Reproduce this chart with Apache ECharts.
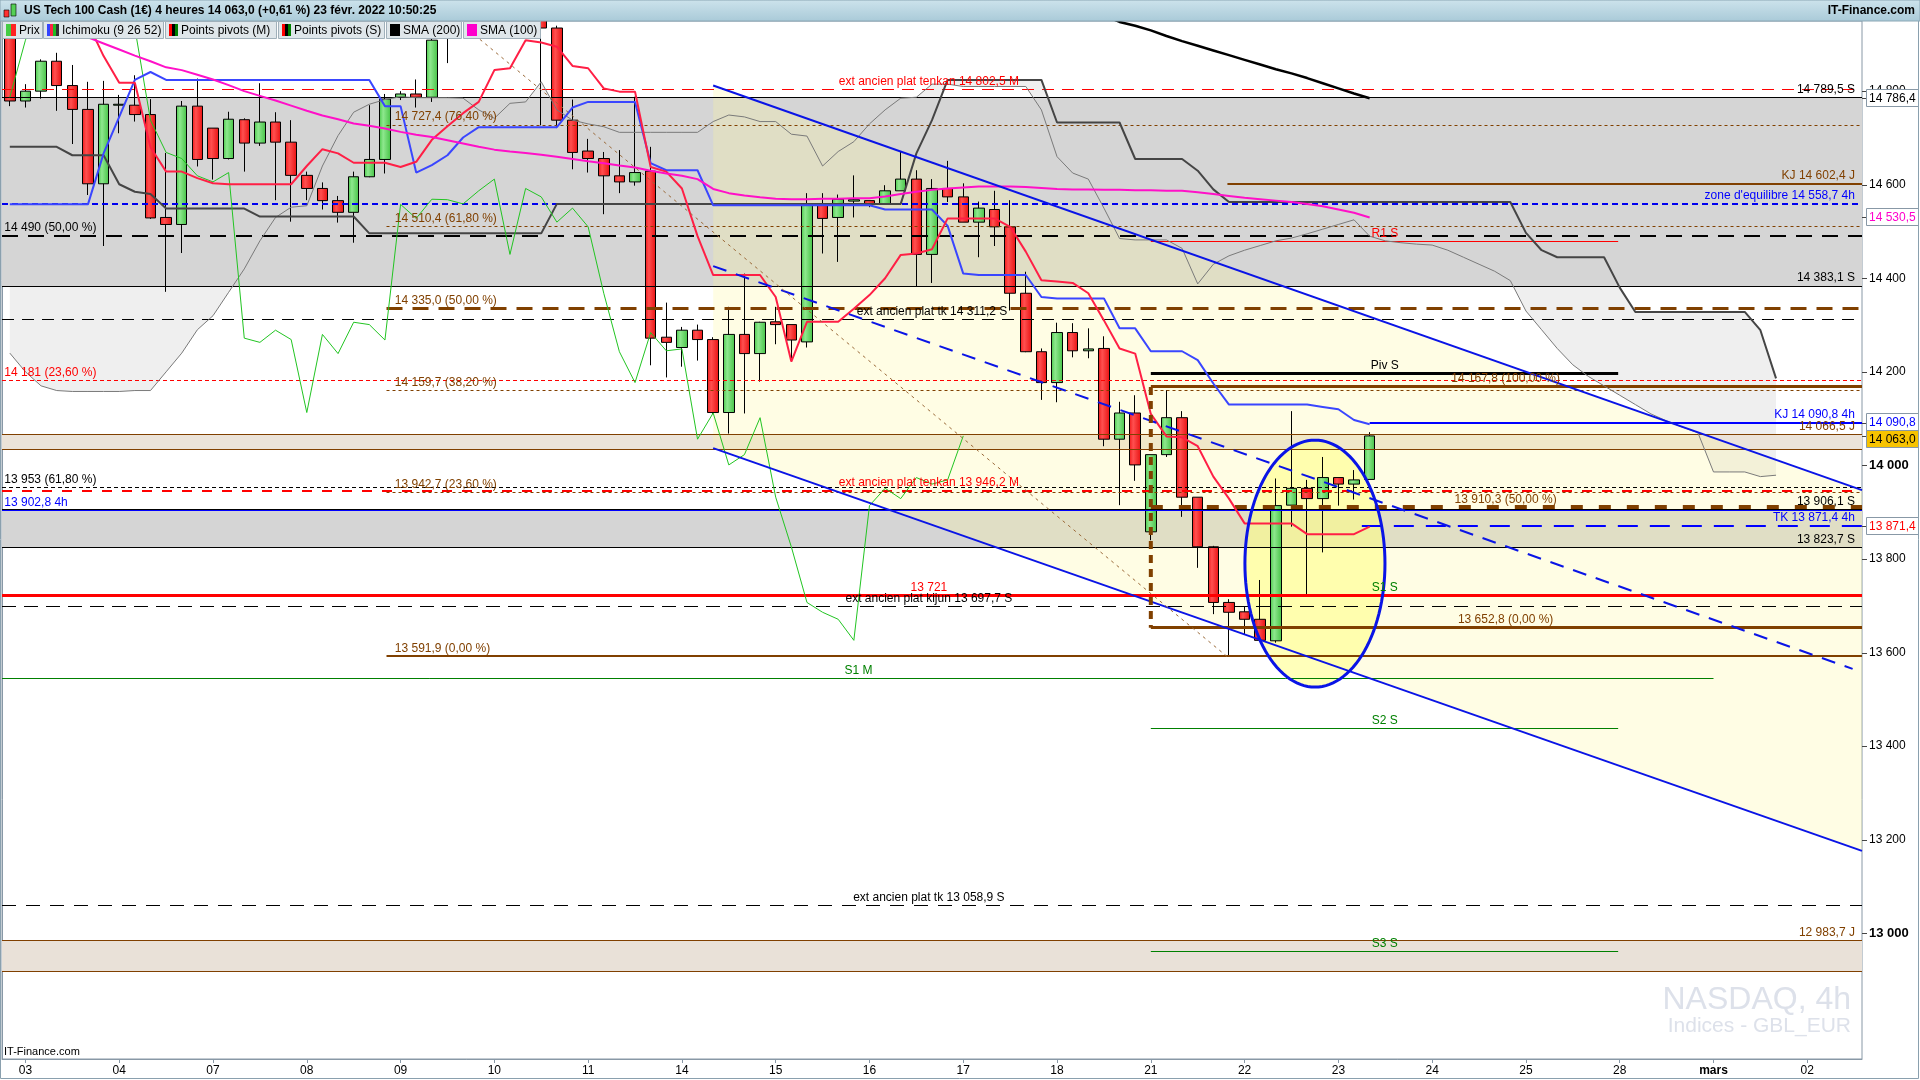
<!DOCTYPE html>
<html><head><meta charset="utf-8">
<script src="https://cdn.jsdelivr.net/npm/echarts@6/dist/echarts.min.js"></script>
<style>html,body{margin:0;padding:0;background:#fff;overflow:hidden}#c{width:1920px;height:1080px}</style>
</head><body><div id="c"></div><script>
// ---------- DATA ----------
const dayLabels = ['03','04','07','08','09','10','11','14','15','16','17','18','21','22','23','24','25','28','mars','02'];
const barsPerDay = 6, firstBar = 1, slotCount = 119;

const opens  = [14940,14779,14800,14864,14812,14761,14602,14770,14770,14750,14530,14515,14768,14721,14656,14739,14689,14734,14691,14620,14592,14566,14541,14617,14654,14787,14794,14787,14915,15000,15060,15120,15170,15110,15040,14935,14738,14672,14656,14619,14606,14629,14274,14252,14289,14269,14113,14280,14239,14307,14301,14264,14558,14530,14565,14566,14559,14587,14612,14451,14592,14574,14520,14547,14510,14368,14243,14177,14284,14245,14250,14056,14112,13858,14023,14102,13932,13826,13707,13687,13671,13625,13915,13951,13929,13974,13960,13970];
const closes = [14779,14800,14864,14812,14761,14602,14772,14772,14750,14529,14515,14768,14654,14656,14740,14689,14734,14691,14620,14592,14566,14541,14617,14654,14783,14794,14787,14909,15000,15060,15120,15170,15110,15040,14935,14738,14669,14656,14619,14606,14626,14272,14263,14289,14269,14113,14280,14239,14306,14301,14268,14558,14528,14569,14568,14559,14587,14612,14451,14592,14574,14520,14550,14510,14368,14243,14177,14284,14245,14249,14056,14112,14001,14023,14102,13932,13826,13707,13686,13671,13626,13914,13951,13929,13974,13960,13969,14063];
const lows   = [14768,14765,14784,14758,14687,14578,14469,14710,14735,14527,14371,14454,14639,14611,14654,14628,14683,14567,14521,14567,14547,14519,14476,14616,14624,14781,14765,14777,14860,14970,15040,15100,15080,15000,14727,14721,14633,14626,14537,14582,14598,14214,14188,14211,14224,14110,14068,14111,14179,14259,14222,14252,14453,14435,14530,14552,14559,14587,14383,14390,14563,14520,14445,14469,14331,14242,14140,14135,14231,14229,14041,13915,13967,13840,14018,13890,13781,13682,13591,13639,13625,13621,13869,13721,13814,13914,13927,13970];
const highs  = [14960,14815,14868,14882,14856,14820,14822,14792,14834,14783,14668,14779,14827,14721,14756,14742,14817,14755,14738,14628,14605,14576,14628,14770,14794,14800,14825,14930,15020,15090,15150,15200,15190,15130,15060,14940,14782,14698,14670,14674,14788,14681,14348,14296,14301,14274,14339,14410,14307,14339,14301,14582,14582,14579,14620,14566,14599,14671,14631,14612,14651,14603,14564,14587,14567,14414,14250,14305,14304,14293,14276,14136,14150,14023,14161,14116,13932,13828,13714,13698,13755,13972,14116,13969,14018,13974,13990,14071];

const tenkan = [15000,15000,14990,14980,14965,14945,14875,14818,14818,14680,14628,14628,14614,14603,14601,14601,14601,14601,14601,14640,14676,14667,14647,14647,14647,14638,14649,14696,14725,14753,14777,14845,14849,14909,14904,14895,14854,14849,14806,14799,14799,14638,14628,14592,14490,14407,14407,14407,14407,14360,14222,14307,14307,14307,14335,14364,14400,14450,14453,14462,14528,14528,14528,14528,14510,14457,14396,14393,14390,14368,14310,14250,14239,14110,14062,14060,14041,13976,13929,13876,13876,13876,13876,13853,13853,13853,13853,13869];
const kijun  = [14558,14558,14558,14558,14558,14558,14667,14745,14824,14841,14824,14824,14824,14824,14824,14824,14824,14824,14824,14824,14824,14824,14824,14824,14768,14768,14626,14642,14663,14701,14723,14723,14723,14723,14723,14723,14765,14777,14777,14777,14777,14646,14631,14631,14631,14556,14556,14556,14556,14556,14556,14556,14556,14556,14556,14556,14547,14547,14547,14547,14512,14410,14407,14407,14407,14407,14360,14357,14357,14357,14357,14293,14293,14244,14244,14244,14225,14175,14130,14130,14130,14130,14130,14130,14125,14120,14097,14088];
const spanA  = [14240,14200,14170,14160,14158,14158,14158,14158,14160,14160,14200,14240,14290,14320,14370,14420,14480,14530,14552,14555,14640,14705,14755,14772,14782,14788,14786,14786,14786,14785,14760,14742,14774,14777,14820,14760,14738,14730,14724,14712,14712,14712,14712,14712,14712,14735,14749,14745,14735,14735,14708,14704,14640,14671,14692,14730,14760,14785,14787,14815,14815,14810,14810,14810,14810,14810,14760,14660,14625,14612,14550,14485,14482,14482,14482,14464,14388,14430,14448,14460,14470,14480,14486,14495,14505,14515,14525,14490,14480,14476,14473,14471,14460,14445,14430,14415,14395,14330,14290,14250,14215,14190,14170,14150,14130,14110,14095,14082,14070,13986,13986,13986,13976,13979];
const spanB  = [14681,14681,14681,14681,14663,14663,14663,14601,14585,14580,14549,14549,14549,14549,14549,14549,14532,14532,14532,14532,14532,14532,14532,14496,14496,14496,14496,14496,14496,14496,14496,14496,14496,14496,14496,14559,14559,14559,14559,14559,14559,14559,14559,14559,14559,14559,14559,14559,14559,14559,14559,14559,14559,14559,14559,14559,14559,14559,14667,14738,14824,14824,14824,14824,14824,14824,14824,14733,14733,14733,14733,14733,14655,14655,14655,14655,14630,14590,14563,14563,14563,14563,14563,14563,14563,14563,14563,14563,14563,14563,14563,14563,14563,14563,14563,14563,14563,14497,14460,14445,14445,14445,14445,14380,14328,14328,14328,14328,14328,14328,14328,14328,14289,14186];
const sma100 = [14980,14967,14954,14941,14928,14915,14902,14889,14876,14864,14851,14845,14835,14825,14813,14800,14790,14780,14769,14758,14748,14740,14731,14726,14720,14713,14707,14702,14695,14688,14681,14675,14671,14668,14664,14660,14655,14650,14646,14641,14637,14630,14624,14619,14612,14591,14582,14577,14573,14570,14569,14569,14570,14570,14571,14571,14575,14580,14585,14589,14592,14594,14596,14596,14596,14595,14593,14591,14590,14590,14589,14589,14588,14588,14587,14587,14584,14580,14576,14572,14569,14566,14563,14559,14554,14547,14540,14530];
const sma200Start = 69;
const sma200 = [14975,14962,14948,14940,14930,14918,14907,14897,14887,14877,14867,14857,14847,14838,14828,14817,14806,14795,14785];

// drawn objects (slot units on x, price on y)
const channelUpper = [[45.5,14812],[119,13947]];
const channelLower = [[45.5,14037],[119,13176]];
const channelMid   = [[45.5,14426],[118.4,13565]];
const fibDiagonal  = [[28.5,14968],[78.43,13590]];
const fibVertical  = [[73.5,14167.8],[73.5,13652.8]];
const ellipse = {u:84.0, v:13790, ru:4.48, rv:264};

const bands = [
  [14786.4,14383.1,'#d5d5d5'],
  [14066.5,14034,'#ebe3d9'],
  [13902.8,13823.7,'#d5d5d5'],
  [12983.7,12919,'#e9e1d8']
];
const BR = '#804000';
// [u0,u1,value,color,width,dash]
const levels = [
  [0,119,14802.5,'#ff0000',1,[12,8]],
  [0,119,14786.4,'#000000',1,null],
  [24.6,119,14727.4,BR,1,[3,3]],
  [78.4,119,14602.4,BR,2,null],
  [0,119,14558.7,'#0000ee',2,[6,4]],
  [24.6,119,14510.4,BR,1,[3,3]],
  [0,119,14490,'#000000',2,[16,10]],
  [73.5,103.4,14479,'#ff0000',1,null],
  [0,119,14383.1,'#000000',1,null],
  [24.6,119,14335,BR,3,[16,10]],
  [0,119,14311.2,'#000000',1,[12,8]],
  [73.5,103.4,14196,'#000000',3,null],
  [0,119,14181,'#ff0000',1,[4,3]],
  [73.5,119,14167.8,BR,3,null],
  [24.6,119,14159.7,BR,1,[3,3]],
  [87.5,119,14090.8,'#0000ff',2,null],
  [0,119,14066.5,BR,1,null],
  [0,119,14034,BR,1,null],
  [0,119,13953,'#000000',1,[4,3]],
  [0,119,13946.2,'#ff0000',2,[10,10]],
  [24.6,119,13942.7,BR,1,[3,3]],
  [0,119,13906.1,'#000000',1,null],
  [0,119,13902.8,'#0000ff',1,null],
  [73.5,119,13910.3,BR,4,[12,16]],
  [87,119,13871.4,'#0000ff',2,[20,12]],
  [0,119,13823.7,'#000000',1,null],
  [0,119,13721,'#ff0000',3,null],
  [0,119,13697.7,'#000000',1,[14,8]],
  [73.5,119,13652.8,BR,3,null],
  [24.6,119,13591.9,BR,2,null],
  [0,109.5,13544,'#008000',1,null],
  [73.5,103.4,13437,'#008000',1,null],
  [0,119,13058.9,'#000000',1,[14,10]],
  [0,119,12983.7,BR,1,null],
  [0,119,12919,BR,1,null],
  [73.5,103.4,12960,'#008000',1,null]
];
// [u,value,text,color,align]
const labels = [
  [59.3,14802.5,'ext ancien plat tenkan 14 802,5 M','#ff0000','center'],
  [118.55,14786.4,'14 789,5 S','#000','right'],
  [25.13,14727.4,'14 727,4 (76,40 %)',BR,'left'],
  [118.55,14602.4,'KJ 14 602,4 J',BR,'right'],
  [118.55,14558.7,"zone d'equilibre 14 558,7 4h",'#0000ff','right'],
  [25.13,14510.4,'14 510,4 (61,80 %)',BR,'left'],
  [0.15,14490,'14 490 (50,00 %)','#000','left'],
  [88.47,14479,'R1 S','#ff0000','center'],
  [118.55,14383.1,'14 383,1 S','#000','right'],
  [25.13,14335,'14 335,0 (50,00 %)',BR,'left'],
  [59.5,14311.2,'ext ancien plat tk 14 311,2 S','#000','center'],
  [88.47,14196,'Piv S','#000','center'],
  [0.15,14181,'14 181 (23,60 %)','#ff0000','left'],
  [96.2,14167.8,'14 167,8 (100,00 %)',BR,'center'],
  [25.13,14159.7,'14 159,7 (38,20 %)',BR,'left'],
  [118.55,14066.5,'14 066,5 J',BR,'right'],
  [118.55,14090.8,'KJ 14 090,8 4h','#0000ff','right'],
  [0.15,13953,'13 953 (61,80 %)','#000','left'],
  [59.3,13946.2,'ext ancien plat tenkan 13 946,2 M','#ff0000','center'],
  [25.13,13942.7,'13 942,7 (23,60 %)',BR,'left'],
  [96.2,13910.3,'13 910,3 (50,00 %)',BR,'center'],
  [118.55,13906.1,'13 906,1 S','#000','right'],
  [0.15,13902.8,'13 902,8 4h','#0000ff','left'],
  [118.55,13871.4,'TK 13 871,4 4h','#0000ff','right'],
  [118.55,13823.7,'13 823,7 S','#000','right'],
  [59.3,13721,'13 721','#ff0000','center'],
  [88.47,13721,'S1 S','#008000','center'],
  [59.3,13697.7,'ext ancien plat kijun 13 697,7 S','#000','center'],
  [96.2,13652.8,'13 652,8 (0,00 %)',BR,'center'],
  [25.13,13591.9,'13 591,9 (0,00 %)',BR,'left'],
  [54.8,13544,'S1 M','#008000','center'],
  [88.47,13437,'S2 S','#008000','center'],
  [59.3,13058.9,'ext ancien plat tk 13 058,9 S','#000','center'],
  [118.55,12983.7,'12 983,7 J',BR,'right'],
  [88.47,12960,'S3 S','#008000','center']
];
// right axis value boxes [value,text,color,bg,dy]
const axisBoxes = [
  [14786.4,'14 786,4','#000000','#ffffff',0],
  [14530.5,'14 530,5','#ff00cc','#ffffff',0],
  [14090.8,'14 090,8','#0000ff','#ffffff',-1],
  [14063.0,'14 063,0','#000000','#f7c300',3],
  [13871.4,'13 871,4','#ff0000','#ffffff',0]
];
const yTicks = [13000,13200,13400,13600,13800,14000,14200,14400,14600,14800];
const yMin = 12731, yMax = 14950;
const title = 'US Tech 100 Cash (1€) 4 heures 14 063,0 (+0,61 %) 23 févr. 2022 10:50:25';
const legendItems = [
  {x:2,w:41,text:'Prix',icons:['#44cc44','#ff2222']},
  {x:43,w:121,text:'Ichimoku (9 26 52)',icons:['#3344ff','#ff2244','#22bb22','#333333']},
  {x:165,w:112,text:'Points pivots (M)',icons:['#ff0000','#000000','#008000']},
  {x:278,w:107,text:'Points pivots (S)',icons:['#ff0000','#000000','#008000']},
  {x:386,w:76,text:'SMA (200)',icons:['#000000']},
  {x:463,w:78,text:'SMA (100)',icons:['#ff00cc']}
];

// ---------- BUILD ----------
const labelAt = [];
const categories = [];
for (let i = 0; i < slotCount; i++) {
  const k = (i - firstBar) / barsPerDay;
  labelAt.push(Number.isInteger(k) && k >= 0 && k < dayLabels.length ? dayLabels[k] : '');
  categories.push('b' + i);
}
const candleData = opens.map((o, i) => [o, closes[i], lows[i], highs[i]]);
const pts = arr => arr.map((v, i) => [i + 0.5, v]);
const chikou = closes.slice(26).map((v, i) => [i + 0.5, v]);
const fmt = v => { const s = String(Math.round(v)); return s.slice(0, s.length - 3) + ' ' + s.slice(-3); };
const FONT = '"Liberation Sans", Arial, sans-serif';

function lineSeries(name, data, color, width, z, dash) {
  return {name, type: 'line', xAxisIndex: 1, yAxisIndex: 0, data, symbol: 'none', silent: true, z,
    lineStyle: {color, width, type: dash || 'solid'}, clip: true};
}

const chart = echarts.init(document.getElementById('c'), null, {width: 1920, height: 1080});
const crisp = (y, w) => (w % 2 === 1 ? Math.round(y - 0.5) + 0.5 : Math.round(y));

const option = {
  animation: false,
  backgroundColor: '#ffffff',
  grid: {left: 2, right: 58, top: 21, bottom: 21, show: true, borderColor: '#8898a6', borderWidth: 1, backgroundColor: '#ffffff'},
  xAxis: [
    {type: 'category', data: categories, boundaryGap: true,
      axisLine: {show: true, lineStyle: {color: '#8898a6'}},
      axisTick: {show: true, alignWithLabel: true, interval: idx => labelAt[idx] !== '', length: 4, lineStyle: {color: '#8898a6'}},
      axisLabel: {show: true, interval: idx => labelAt[idx] !== '', margin: 6, color: '#000', fontSize: 12,
        fontFamily: '"Liberation Sans Narrow", "Liberation Sans", Arial',
        formatter: (val, idx) => labelAt[idx] === 'mars' ? '{b|mars}' : labelAt[idx],
        rich: {b: {fontWeight: 'bold', fontSize: 12, fontFamily: '"Liberation Sans Narrow", "Liberation Sans", Arial'}}},
      splitLine: {show: false}},
    {type: 'value', min: 0, max: slotCount, show: false}
  ],
  yAxis: [{type: 'value', position: 'right', min: yMin, max: yMax, scale: true,
    axisLine: {show: true, lineStyle: {color: '#8898a6'}},
    axisTick: {show: false},
    axisLabel: {show: true, customValues: yTicks, margin: 7, color: '#000', fontSize: 12, fontFamily: FONT,
      formatter: v => (v % 1000 === 0 ? '{b|' + fmt(v) + '}' : fmt(v)),
      rich: {b: {fontWeight: 'bold', fontSize: 13, fontFamily: FONT}}},
    splitLine: {show: false}}],
  series: [
    // ichimoku cloud fill
    {type: 'custom', xAxisIndex: 1, yAxisIndex: 0, z: 1, silent: true, data: [[0]],
      renderItem: (p, api) => {
        const points = [];
        for (let i = 0; i < spanA.length; i++) points.push(api.coord([i + 0.5, spanA[i]]));
        for (let i = spanB.length - 1; i >= 0; i--) points.push(api.coord([i + 0.5, spanB[i]]));
        return {type: 'polygon', shape: {points}, style: {fill: '#efefef'}};
      }},
    // bands
    {type: 'custom', xAxisIndex: 1, yAxisIndex: 0, z: 1, silent: true, data: bands.map((b, i) => [i]),
      renderItem: (p, api) => {
        const b = bands[p.dataIndex];
        const a = api.coord([0, b[0]]), c = api.coord([slotCount, b[1]]);
        return {type: 'rect', shape: {x: a[0], y: Math.round(a[1]), width: c[0] - a[0], height: Math.round(c[1]) - Math.round(a[1])}, style: {fill: b[2]}};
      }},
    // channel fill
    {type: 'custom', xAxisIndex: 1, yAxisIndex: 0, z: 2, silent: true, data: [[0]],
      renderItem: (p, api) => {
        const points = [api.coord(channelUpper[0]), api.coord(channelUpper[1]), api.coord(channelLower[1]), api.coord(channelLower[0])];
        return {type: 'polygon', shape: {points}, style: {fill: 'rgba(255,248,150,0.26)'}};
      }},
    // ellipse fill
    {type: 'custom', xAxisIndex: 1, yAxisIndex: 0, z: 2, silent: true, data: [[0]],
      renderItem: (p, api) => {
        const c = api.coord([ellipse.u, ellipse.v]);
        const rx = api.coord([ellipse.u + ellipse.ru, ellipse.v])[0] - c[0];
        const ry = c[1] - api.coord([ellipse.u, ellipse.v + ellipse.rv])[1];
        const points = [];
        for (let k = 0; k < 96; k++) { const t = k / 96 * Math.PI * 2; points.push([c[0] + rx * Math.cos(t), c[1] + ry * Math.sin(t)]); }
        return {type: 'polygon', shape: {points}, style: {fill: 'rgba(255,255,130,0.55)'}};
      }},
    // candles
    {type: 'candlestick', xAxisIndex: 0, yAxisIndex: 0, z: 3, silent: true, barWidth: 11, data: candleData,
      itemStyle: {
        color: new echarts.graphic.LinearGradient(0, 0, 1, 0, [{offset: 0, color: '#49c849'}, {offset: 0.35, color: '#8ee88e'}, {offset: 1, color: '#45c245'}]),
        color0: new echarts.graphic.LinearGradient(0, 0, 1, 0, [{offset: 0, color: '#f01818'}, {offset: 0.35, color: '#ff5050'}, {offset: 1, color: '#e81010'}]),
        borderColor: '#000', borderColor0: '#000', borderColorDoji: '#000', borderWidth: 1}},
    // horizontal levels
    {type: 'custom', xAxisIndex: 1, yAxisIndex: 0, z: 4, silent: true, data: levels.map((l, i) => [i]),
      renderItem: (p, api) => {
        const l = levels[p.dataIndex];
        const a = api.coord([l[0], l[2]]), b = api.coord([l[1], l[2]]);
        const y = crisp(a[1], l[4]);
        return {type: 'line', shape: {x1: a[0], y1: y, x2: b[0], y2: y},
          style: {stroke: l[3], lineWidth: l[4], lineDash: l[5] || null}};
      }},
    // ichimoku + SMA lines
    lineSeries('ssa', pts(spanA), '#7a7a7a', 1, 5),
    lineSeries('ssb', pts(spanB), '#454545', 2, 5),
    lineSeries('chikou', chikou, '#22c422', 1, 5),
    lineSeries('kijun', pts(kijun), '#3a46ff', 2, 5),
    lineSeries('tenkan', pts(tenkan), '#ff1f45', 2, 5),
    lineSeries('sma100', pts(sma100), '#ff10c8', 2, 5),
    lineSeries('sma200', sma200.map((v, i) => [sma200Start + i + 0.5, v]), '#000000', 2.5, 5),
    // trend lines
    lineSeries('chanU', channelUpper, '#0a14e6', 2, 6),
    lineSeries('chanL', channelLower, '#0a14e6', 2, 6),
    lineSeries('chanM', channelMid, '#0a14e6', 2, 6, [14, 10]),
    lineSeries('fibD', fibDiagonal, '#9a6a3a', 1, 6, [3, 4]),
    lineSeries('fibV', fibVertical, BR, 4, 6, [8, 6]),
    // ellipse stroke
    {type: 'custom', xAxisIndex: 1, yAxisIndex: 0, z: 6, silent: true, data: [[0]],
      renderItem: (p, api) => {
        const c = api.coord([ellipse.u, ellipse.v]);
        const rx = api.coord([ellipse.u + ellipse.ru, ellipse.v])[0] - c[0];
        const ry = c[1] - api.coord([ellipse.u, ellipse.v + ellipse.rv])[1];
        const points = [];
        for (let k = 0; k < 120; k++) { const t = k / 120 * Math.PI * 2; points.push([c[0] + rx * Math.cos(t), c[1] + ry * Math.sin(t)]); }
        return {type: 'polygon', shape: {points}, style: {fill: 'none', stroke: '#0a14e6', lineWidth: 3}};
      }},
    // labels
    {type: 'custom', xAxisIndex: 1, yAxisIndex: 0, z: 7, silent: true, data: labels.map((l, i) => [i]),
      renderItem: (p, api) => {
        const l = labels[p.dataIndex];
        const c = api.coord([l[0], l[1]]);
        return {type: 'text', x: c[0], y: c[1] - 2,
          style: {text: l[2], fill: l[3], font: '12px ' + FONT, align: l[4], verticalAlign: 'bottom'}};
      }},
    // right axis ticks for the value labels
    {type: 'custom', xAxisIndex: 1, yAxisIndex: 0, z: 8, silent: true, clip: false, data: yTicks.map((t, i) => [i]),
      renderItem: (p, api) => {
        const c = api.coord([slotCount, yTicks[p.dataIndex]]);
        const y = Math.round(c[1]) + 0.5;
        return {type: 'line', shape: {x1: c[0], y1: y, x2: c[0] + 5, y2: y}, style: {stroke: '#444', lineWidth: 1}};
      }},
    // right axis boxes
    {type: 'custom', xAxisIndex: 1, yAxisIndex: 0, z: 8, silent: true, clip: false, data: axisBoxes.map((b, i) => [i]),
      renderItem: (p, api) => {
        const b = axisBoxes[p.dataIndex];
        const c = api.coord([slotCount, b[0]]);
        const y = Math.round(c[1]) + b[4];
        return {type: 'group', children: [
          {type: 'line', shape: {x1: c[0], y1: Math.round(c[1]) + 0.5, x2: c[0] + 5, y2: Math.round(c[1]) + 0.5}, style: {stroke: '#444', lineWidth: 1}},
          {type: 'rect', shape: {x: c[0] + 4.5, y: y - 8.5, width: 52, height: 17}, style: {fill: b[3], stroke: '#8898a6', lineWidth: 1}},
          {type: 'text', x: c[0] + 7, y: y + 0.5, style: {text: b[1], fill: b[2], font: '12px ' + FONT, align: 'left', verticalAlign: 'middle'}}
        ]};
      }}
  ],
  graphic: []
};

// header + legend + watermark (layout only)
const g = [];
g.push({type: 'rect', z: 100, shape: {x: 0, y: 0, width: 1920, height: 21},
  style: {fill: new echarts.graphic.LinearGradient(0, 0, 0, 1, [{offset: 0, color: '#cde3ec'}, {offset: 1, color: '#a9cad8'}]), stroke: '#8aa6b4', lineWidth: 1}});
g.push({type: 'rect', z: 101, shape: {x: 4, y: 10, width: 5, height: 7}, style: {fill: '#ff3030', stroke: '#000', lineWidth: 0.6}});
g.push({type: 'rect', z: 101, shape: {x: 11, y: 4, width: 5, height: 12}, style: {fill: '#55d055', stroke: '#000', lineWidth: 0.6}});
g.push({type: 'text', z: 101, x: 24, y: 11, style: {text: title, fill: '#000', font: 'bold 12px ' + FONT, verticalAlign: 'middle'}});
g.push({type: 'text', z: 101, x: 1915, y: 11, style: {text: 'IT-Finance.com', fill: '#000', font: 'bold 12px "Liberation Sans Narrow", "Liberation Sans", Arial', align: 'right', verticalAlign: 'middle'}});
legendItems.forEach(it => {
  g.push({type: 'rect', z: 100, shape: {x: it.x + 0.5, y: 21.5, width: it.w - 1, height: 17}, style: {fill: '#dfe6ea', stroke: '#a0b0ba', lineWidth: 1}});
  const iw = it.icons.length === 1 ? 10 : (it.icons.length === 2 ? 5 : 3);
  it.icons.forEach((col, k) => g.push({type: 'rect', z: 101, shape: {x: it.x + 4 + k * iw, y: 24, width: iw, height: 12}, style: {fill: col}}));
  const tx = it.x + 4 + it.icons.length * iw + 3;
  g.push({type: 'text', z: 101, x: tx, y: 30.5, style: {text: it.text, fill: '#000', font: '12px ' + FONT, verticalAlign: 'middle'}});
});
g.push({type: 'text', z: 50, x: 1851, y: 1000, style: {text: 'NASDAQ, 4h', fill: '#dde1ea', font: '32px ' + FONT, align: 'right', verticalAlign: 'middle'}});
g.push({type: 'text', z: 50, x: 1851, y: 1026, style: {text: 'Indices - GBL_EUR', fill: '#dde1ea', font: '21px ' + FONT, align: 'right', verticalAlign: 'middle'}});
g.push({type: 'text', z: 50, x: 4, y: 1052, style: {text: 'IT-Finance.com', fill: '#000', font: '11px "Liberation Sans Narrow", "Liberation Sans", Arial', verticalAlign: 'middle'}});
g.push({type: 'rect', z: 99, shape: {x: 0.5, y: 0.5, width: 1918, height: 1078}, style: {fill: 'none', stroke: '#8aa0ae', lineWidth: 1}});
option.graphic = g;
chart.setOption(option);
</script></body></html>
